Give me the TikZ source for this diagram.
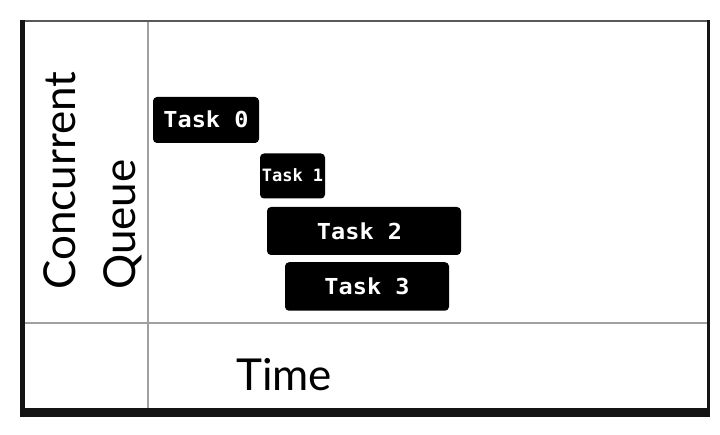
\documentclass[tikz,border=0pt]{standalone}
\usepackage{fontspec}
\setmainfont{Lato}
\newfontfamily\taskfont{DejaVu Sans Mono}[FakeStretch=1.07]
\newfontfamily\taskfontsmall{DejaVu Sans Mono}
\definecolor{frameblack}{HTML}{141414}
\definecolor{divgray}{HTML}{A0A0A0}
\begin{document}
\begin{tikzpicture}[x=1pt,y=1pt,
  task/.style={fill=black, rounded corners=4pt, text=white, inner sep=0pt,
    font=\taskfont\bfseries\fontsize{22}{24}\selectfont},
  axislabel/.style={inner sep=0pt, font=\fontsize{44}{48}\selectfont, text=black},
  thin frame/.style={draw=gray!70!black, line width=1.2pt},
  divider/.style={draw=divgray, line width=1.3pt}]
\useasboundingbox[fill=white] (0,0) rectangle (720,-435);

% frame corners
\coordinate (tl) at (20,-21);
\coordinate (tr) at (708,-21);

% dividers
\coordinate (vtop) at (148,-21);
\coordinate (vbot) at (148,-408);
\coordinate (hleft) at (25,-323);
\coordinate (hright) at (706.5,-323);
\draw[divider, line width=1.2pt] (vtop) -- (vbot);
\draw[divider] (hleft) -- (hright);

% frame
\draw[thin frame] (tl) -- (tr);
\draw[frameblack, line width=5.5pt] (22.3,-20.5) -- (22.3,-417);
\draw[frameblack, line width=3.5pt] (708.3,-20.5) -- (708.3,-417);
\draw[frameblack, line width=9pt] (19.5,-412.5) -- (710,-412.5);

% tasks
\node[task, minimum width=106pt, minimum height=46pt] (t0) at (206,-120) {\raisebox{2pt}{Task 0}};
\node[task, minimum width=65pt, minimum height=45pt,
      font=\taskfontsmall\bfseries\fontsize{17}{18}\selectfont] (t1) at (292.5,-176) {\raisebox{1pt}{Task 1}};
\node[task, minimum width=194pt, minimum height=48pt] (t2) at (364,-231) {Task 2\kern9pt\relax};
\node[task, minimum width=164pt, minimum height=48.5pt] (t3) at (367,-286.5) {Task 3};

% labels
\node[axislabel, rotate=90, anchor=base west] (lc) at (75,-290) {Concurrent};
\node[axislabel, rotate=90, anchor=base west] (lq) at (135,-290) {Queue};
\node[axislabel, anchor=base west] (time) at (236,-390) {Time};
\end{tikzpicture}
\end{document}
